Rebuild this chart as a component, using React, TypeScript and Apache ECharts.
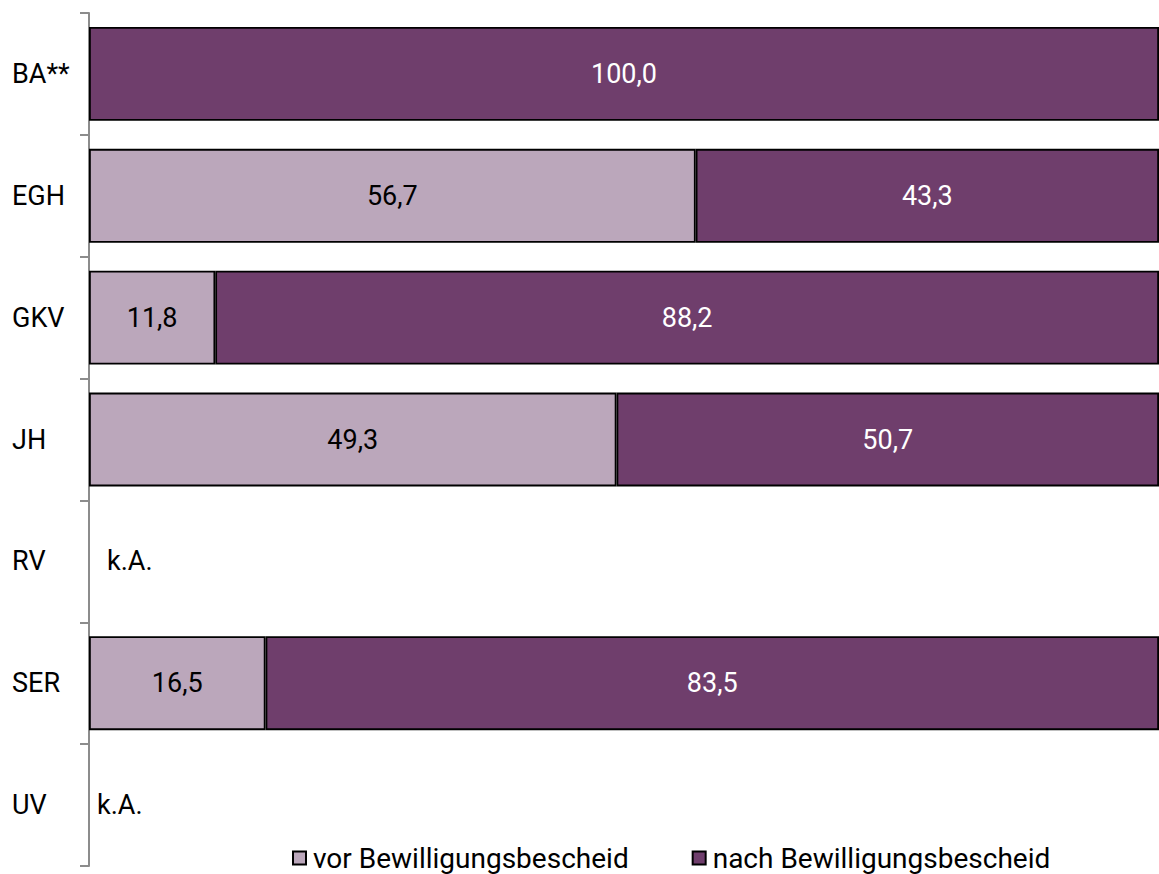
import React, { useEffect, useRef } from "react";
import * as echarts from "echarts";

const categories = ["BA**", "EGH", "GKV", "JH", "RV", "SER", "UV"];
const vorValues: (number | null)[] = [null, 56.7, 11.8, 49.3, null, 16.5, null];
const nachValues: (number | null)[] = [100.0, 43.3, 88.2, 50.7, null, 83.5, null];
const kaValues: (number | null)[] = [null, null, null, null, 0, null, 0];
const kaDistance = [0, 0, 0, 0, 18, 0, 8];
const seriesNames = ["vor Bewilligungsbescheid", "nach Bewilligungsbescheid"];

const LIGHT = "#bba7bb";
const DARK = "#6f3e6c";
const FONT = "Roboto";

const fmt = (v: number) => v.toFixed(1).replace(".", ",");

export default function App() {
  const ref = useRef<HTMLDivElement>(null);
  useEffect(() => {
    if (!ref.current) return;
    const chart = echarts.init(ref.current, undefined, { renderer: "svg" });
    const toData = (arr: (number | null)[]) => arr.map((v) => (v === null ? "-" : v));
    chart.setOption({
      animation: false,
      textStyle: { fontFamily: FONT },
      grid: { left: 89, right: -7, top: 13, bottom: 8, containLabel: false },
      xAxis: { type: "value", min: 0, max: 100, show: false },
      yAxis: {
        type: "category",
        data: categories,
        inverse: true,
        axisLine: { show: true, lineStyle: { color: "#8c8c8c", width: 2 } },
        axisTick: { show: true, length: 9, lineStyle: { color: "#8c8c8c", width: 2 } },
        axisLabel: {
          align: "left",
          margin: 77,
          color: "#000",
          fontSize: 27,
          fontFamily: FONT,
        },
      },
      legend: {
        left: 287,
        top: 839,
        itemWidth: 13,
        itemHeight: 13,
        itemGap: 63,
        icon: "rect",
        textStyle: { fontSize: 28, color: "#000", fontFamily: FONT, padding: [0, 0, 0, 2] },
        data: seriesNames,
      },
      series: [
        {
          name: seriesNames[0],
          type: "bar",
          stack: "s",
          barCategoryGap: "23%",
          data: toData(vorValues),
          itemStyle: { color: LIGHT, borderColor: "#000", borderWidth: 1.8 },
          label: {
            show: true,
            position: "inside",
            color: "#000",
            fontSize: 27,
            fontFamily: FONT,
            formatter: (p: any) => fmt(p.value),
          },
        },
        {
          name: seriesNames[1],
          type: "bar",
          stack: "s",
          barCategoryGap: "23%",
          data: toData(nachValues),
          itemStyle: { color: DARK, borderColor: "#000", borderWidth: 1.8 },
          label: {
            show: true,
            position: "inside",
            color: "#fff",
            fontSize: 27,
            fontFamily: FONT,
            formatter: (p: any) => fmt(p.value),
          },
        },
        {
          name: "ka",
          type: "bar",
          stack: "s",
          barCategoryGap: "23%",
          data: kaValues.map((v, i) =>
            v === null
              ? "-"
              : { value: v, label: { distance: kaDistance[i] } }
          ),
          itemStyle: { color: "rgba(0,0,0,0)", borderWidth: 0 },
          label: {
            show: true,
            position: "right",
            color: "#000",
            fontSize: 27,
            fontFamily: FONT,
            formatter: () => "k.A.",
          },
        },
      ],
    });
    return () => chart.dispose();
  }, []);
  return (
    <div
      ref={ref}
      style={{ position: "fixed", left: 0, top: 0, width: 1159, height: 874, background: "#fff" }}
    />
  );
}
